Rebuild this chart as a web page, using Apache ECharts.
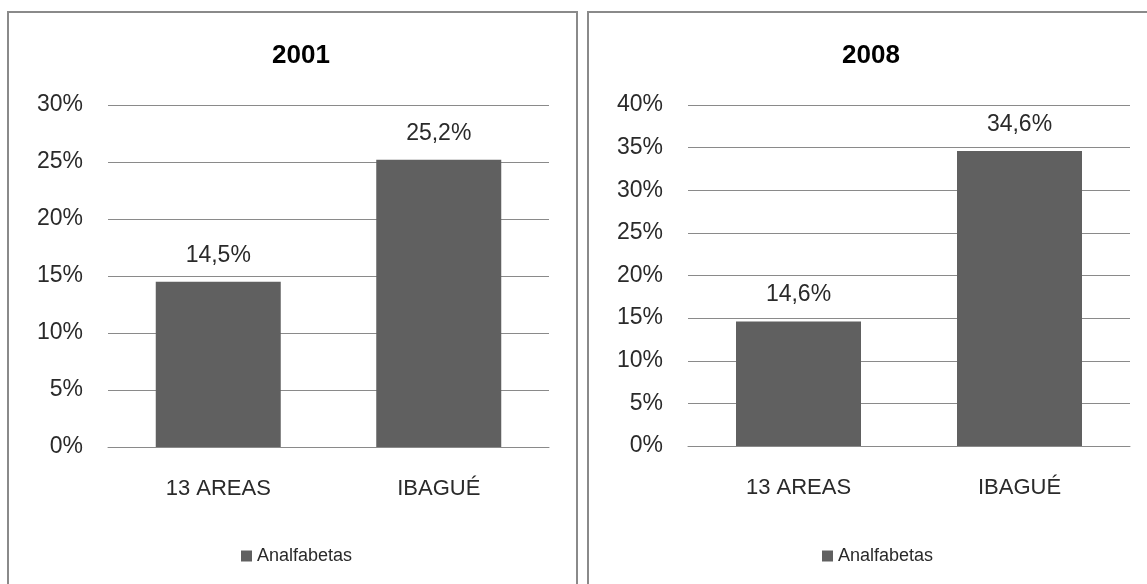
<!DOCTYPE html>
<html>
<head>
<meta charset="utf-8">
<script src="https://cdn.jsdelivr.net/npm/echarts@6/dist/echarts.min.js"></script>
<style>
  html, body { margin: 0; padding: 0; background: #fff; }
  #chart { width: 1147px; height: 584px; }
</style>
</head>
<body>
<div id="chart"></div>
<script>
// data
const categories = ['13 AREAS', 'IBAGUÉ']
const values2001 = [14.5, 25.2]
const values2008 = [14.6, 34.6]
const titles = ['2001', '2008']
const seriesName = 'Analfabetas'

const FONT = 'Liberation Sans'
const TEXT = '#2a2a2a'
const GRID = '#8a8a8a'
const BAR = '#606060'

const chart = echarts.init(document.getElementById('chart'))

function pct (v) {
  return String(v).replace('.', ',') + '%'
}

function yAxis (idx, max) {
  return {
    type: 'value',
    gridIndex: idx,
    min: 0,
    max: max,
    interval: 5,
    axisLine: { show: false },
    axisTick: { show: false },
    axisLabel: { color: TEXT, fontFamily: FONT, fontSize: 23, margin: 25, formatter: '{value}%' },
    splitLine: { lineStyle: { color: GRID, width: 1 } }
  }
}

function xAxis (idx) {
  return {
    type: 'category',
    gridIndex: idx,
    data: categories,
    axisLine: { lineStyle: { color: GRID } },
    axisTick: { show: false },
    axisLabel: { color: TEXT, fontFamily: FONT, fontSize: 22, margin: 31 }
  }
}

function barSeries (idx, data) {
  return {
    name: seriesName,
    type: 'bar',
    xAxisIndex: idx,
    yAxisIndex: idx,
    data: data,
    barWidth: 125,
    itemStyle: { color: BAR },
    label: {
      show: true,
      position: 'top',
      distance: 15,
      color: TEXT,
      fontFamily: FONT,
      fontSize: 23,
      formatter: (p) => pct(p.value)
    }
  }
}

const option = {
  animation: false,
  title: [
    { text: titles[0], left: 296, top: 38, textAlign: 'center',
      textStyle: { fontFamily: FONT, fontSize: 26, fontWeight: 'bold', color: '#000' } },
    { text: titles[1], left: 866, top: 38, textAlign: 'center',
      textStyle: { fontFamily: FONT, fontSize: 26, fontWeight: 'bold', color: '#000' } }
  ],
  legend: [
    { data: [seriesName], left: 236, top: 542, itemWidth: 11, itemHeight: 11, itemGap: 4,
      icon: 'rect', textStyle: { fontFamily: FONT, fontSize: 18, color: TEXT } },
    { data: [seriesName], left: 817, top: 542, itemWidth: 11, itemHeight: 11, itemGap: 4,
      icon: 'rect', textStyle: { fontFamily: FONT, fontSize: 18, color: TEXT } }
  ],
  grid: [
    { left: 108, top: 105, width: 441, height: 342 },
    { left: 688, top: 105, width: 442, height: 341 }
  ],
  xAxis: [xAxis(0), xAxis(1)],
  yAxis: [yAxis(0, 30), yAxis(1, 40)],
  series: [barSeries(0, values2001), barSeries(1, values2008)],
  graphic: [
    { type: 'rect', shape: { x: 8, y: 12, width: 569, height: 580 },
      style: { fill: 'none', stroke: '#8a8a8a', lineWidth: 2 }, silent: true },
    { type: 'rect', shape: { x: 588, y: 12, width: 570, height: 580 },
      style: { fill: 'none', stroke: '#8a8a8a', lineWidth: 2 }, silent: true }
  ]
}

chart.setOption(option)
</script>
</body>
</html>
